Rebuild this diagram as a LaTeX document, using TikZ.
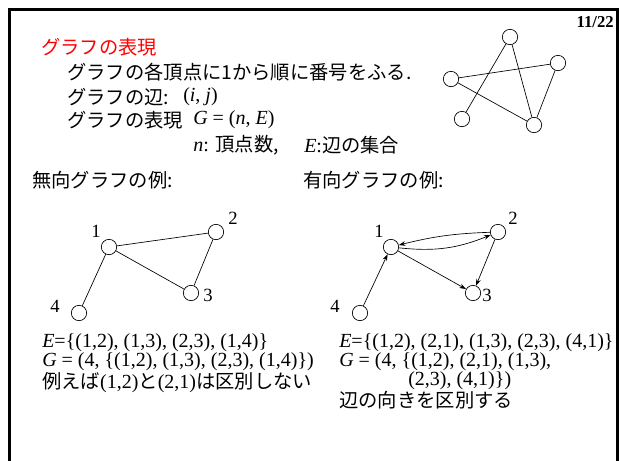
\documentclass[tikz,border=0pt]{standalone}
\usepackage{fontspec}
\setmainfont{Liberation Serif}
\newfontfamily\jp[Scale=0.965]{Noto Sans CJK JP}
\usetikzlibrary{arrows.meta}

\tikzset{
  vtx/.style={circle,draw,inner sep=0pt,minimum size=11.5pt,line width=0.5pt},
  edge/.style={line width=0.5pt},
  arc/.style={line width=0.5pt,-{Stealth[length=5pt,width=3.5pt]}},
  txt/.style={anchor=west,inner sep=0pt,font=\fontsize{15}{18}\selectfont},
  num/.style={inner sep=0pt,font=\fontsize{14}{16}\selectfont},
}

\begin{document}
\begin{tikzpicture}[x=0.75pt,y=0.75pt,yscale=-1,xscale=1]
\useasboundingbox (0,0) rectangle (619,461);

%Frame
\draw [line width=2.25pt] (9.5,461) -- (9.5,9.5) -- (617.5,9.5) -- (617.5,461) ;

% Page number
\node [anchor=east,inner sep=0pt,font=\fontsize{12.5}{14}\selectfont\bfseries] (page) at (614,22) {11/22};

% Text Node
\node [txt,text=red] (title) at (41,47) {\jp グラフの表現};
\node [txt] (line1) at (67,72) {\jp グラフの各頂点に1から順に番号をふる.};
\node [txt] (line2) at (67,97) {\jp グラフの辺:};
\node [txt] (pair) at (183,97) {(\textit{i}, \textit{j})};
\node [txt] (line3) at (67,120) {\jp グラフの表現};
\node [txt] (gdef) at (193,120) {\textit{G} = (\textit{n}, \textit{E})};
\node [txt] (ndef) at (193,145) {\textit{n}: {\jp 頂点数,}};
\node [txt] (edef) at (304,145) {\textit{E}:{\jp 辺の集合}};

%Sample graph
\node [vtx] (a) at (510,37) {};
\node [vtx] (b) at (558,63) {};
\node [vtx] (c) at (451,79) {};
\node [vtx] (d) at (462,119) {};
\node [vtx] (e) at (534,125) {};
\draw [edge] (a) -- (d) ;
\draw [edge] (a) -- (e) ;
\draw [edge] (c) -- (b) ;
\draw [edge] (c) -- (e) ;
\draw [edge] (b) -- (e) ;

% Text Node
\node [txt] (uhead) at (32,180) {\jp 無向グラフの例:};
\node [txt] (dhead) at (303,180) {\jp 有向グラフの例:};

%Undirected graph
\node [vtx] (u1) at (109,247) {};
\node [vtx] (u2) at (216,232) {};
\node [vtx] (u3) at (191,293) {};
\node [vtx] (u4) at (79,313) {};
\draw [edge] (u1) -- (u2) ;
\draw [edge] (u1) -- (u3) ;
\draw [edge] (u2) -- (u3) ;
\draw [edge] (u1) -- (u4) ;
\node [num] (ul1) at (96,231) {1};
\node [num] (ul2) at (233,218) {2};
\node [num] (ul3) at (208,295) {3};
\node [num] (ul4) at (55,306) {4};

%Directed graph
\node [vtx] (d1) at (391,247) {};
\node [vtx] (d2) at (498,232) {};
\node [vtx] (d3) at (473,293) {};
\node [vtx] (d4) at (360,313) {};
\draw [arc] (d1) to [bend left=14] (d2) ;
\draw [arc] (d2) to [bend left=6] (d1) ;
\draw [arc] (d1) -- (d3) ;
\draw [arc] (d2) -- (d3) ;
\draw [arc] (d4) -- (d1) ;
\node [num] (dl1) at (379,231) {1};
\node [num] (dl2) at (513,218) {2};
\node [num] (dl3) at (487,295) {3};
\node [num] (dl4) at (335,306) {4};

% Text Node
\node [txt] (uedges) at (42,343) {\textit{E}=\{(1,2), (1,3), (2,3), (1,4)\}};
\node [txt] (ugraph) at (42,362) {\textit{G} = (4, \{(1,2), (1,3), (2,3), (1,4)\})};
\node [txt] (unote) at (42,382.5) {{\jp 例えば}(1,2){\jp と}(2,1){\jp は区別しない}};
\node [txt] (dedges) at (339,343) {\textit{E}=\{(1,2), (2,1), (1,3), (2,3), (4,1)\}};
\node [txt] (dgraph) at (339,362) {\textit{G} = (4, \{(1,2), (2,1), (1,3),};
\node [txt] (dgraph2) at (408,380.5) {(2,3), (4,1)\})};
\node [txt] (dnote) at (339,400) {\jp 辺の向きを区別する};

\end{tikzpicture}
\end{document}
